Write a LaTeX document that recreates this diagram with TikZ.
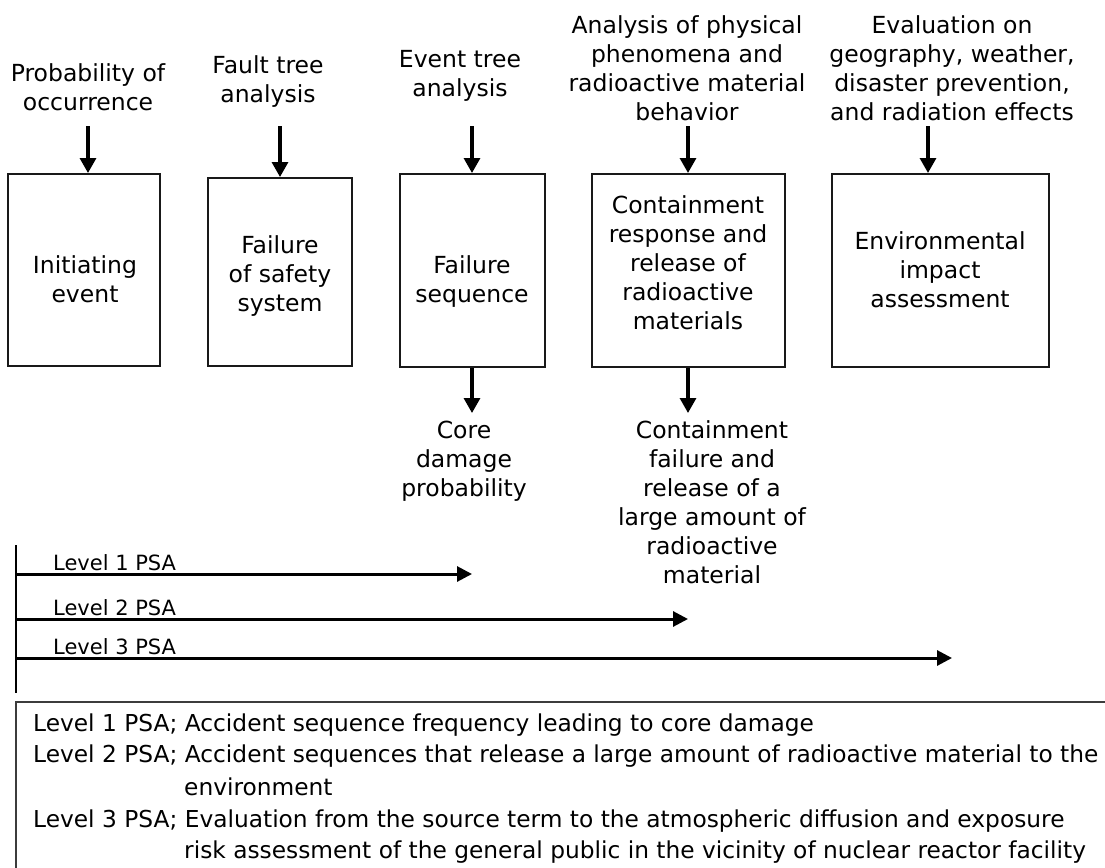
\documentclass[tikz,border=0pt]{standalone}
\usepackage{fontspec}
\setmainfont{DejaVu Sans}
\usetikzlibrary{arrows.meta,positioning,calc}

\begin{document}
\begin{tikzpicture}[x=1pt,y=-1pt,
		txt/.style={inner sep=0pt, align=center, anchor=north,
			font=\fontsize{23.5}{29}\selectfont},
		psabox/.style={draw=trait, line width=2pt, inner sep=0pt},
		fleche/.style={line width=3.2pt, -{Triangle[width=16pt,length=15pt]}},
		niveau/.style={line width=3pt, -{Triangle[width=15pt,length=15pt]}},
		lvl/.style={inner sep=0pt, anchor=base west, font=\fontsize{21}{25}\selectfont},
		leg/.style={inner sep=0pt, anchor=base west, font=\fontsize{23.3}{29}\selectfont}]
		% Couleurs
		\definecolor{trait}{RGB}{25,25,25}
		\definecolor{cadre}{RGB}{60,60,60}
		
		% Cadre de l'image
		\path[fill=white, use as bounding box] (0,0) rectangle (1105,867);
		\clip (0,0) rectangle (1105,867);
		
		% Cases
		\node[psabox, minimum width=152pt, minimum height=192pt] (ie)   at (84,270)    {};
		\node[psabox, minimum width=144pt, minimum height=188pt] (fss)  at (280,272)   {};
		\node[psabox, minimum width=145pt, minimum height=193pt] (fseq) at (472.5,270.5) {};
		\node[psabox, minimum width=193pt, minimum height=193pt] (cont) at (688.5,270.5) {};
		\node[psabox, minimum width=217pt, minimum height=193pt] (env)  at (940.5,270.5) {};
		
		\node[txt] (ietxt)   at (85,255)  {Initiating\\event};
		\node[txt] (fsstxt)  at (280,235) {Failure\\of safety\\system};
		\node[txt] (fseqtxt) at (472,255) {Failure\\sequence};
		\node[txt] (conttxt) at (688,195) {Containment\\response and\\release of\\radioactive\\materials};
		\node[txt] (envtxt)  at (940,231) {Environmental\\impact\\assessment};
		
		% Entrées (au-dessus)
		\node[txt] (probtxt) at (88,63)  {Probability of\\occurrence};
		\node[txt] (fttxt)   at (268,55) {Fault tree\\analysis};
		\node[txt] (ettxt)   at (460,50) {Event tree\\analysis};
		\node[txt] (phystxt) at (687,15) {Analysis of physical\\phenomena and\\radioactive material\\behavior};
		\node[txt] (evaltxt) at (952,15) {Evaluation on\\geography, weather,\\disaster prevention,\\and radiation effects};
		
		\foreach \nom/\x/\cible in {a1/88/ie, a2/280/fss, a3/472/fseq, a4/688/cont, a5/928/env}{
			\coordinate (\nom) at (\x,126);
			\draw[fleche] (\nom) -- (\nom |- \cible.north);
		}
		
		% Sorties (en dessous)
		\coordinate (b1) at (472,413);
		\coordinate (b2) at (688,413);
		\draw[fleche] (b1 |- fseq.south) -- (b1);
		\draw[fleche] (b2 |- cont.south) -- (b2);
		
		\node[txt] (cdptxt) at (464,421) {Core\\damage\\probability};
		\node[txt] (cftxt)  at (712,420) {Containment\\failure and\\release of a\\large amount of\\radioactive\\material};
		
		% Niveaux PSA
		\coordinate (lvhaut) at (16,545);
		\coordinate (lvbas)  at (16,693);
		\draw[line width=2pt] (lvhaut) -- (lvbas);
		\foreach \n/\y/\xe in {1/574/472, 2/619/688, 3/658/952}{
			\coordinate (l\n a) at (16,\y);
			\coordinate (l\n b) at (\xe,\y);
			\draw[niveau] (l\n a) -- (l\n b);
			\node[lvl] (l\n txt) at (53,\y-4) {Level \n\ PSA};
		}
		
		% Légende
		\draw[cadre, line width=2pt] (16,900) |- (1150,702);
		\node[leg] (leg1)  at (33,731)  {Level 1 PSA; Accident sequence frequency leading to core damage};
		\node[leg] (leg2)  at (33,762)  {Level 2 PSA; Accident sequences that release a large amount of radioactive material to the};
		\node[leg] (leg2b) at (184,795) {environment};
		\node[leg] (leg3)  at (33,827)  {Level 3 PSA; Evaluation from the source term to the atmospheric diffusion and exposure};
		\node[leg] (leg3b) at (184,858) {risk assessment of the general public in the vicinity of nuclear reactor facility};
	\end{tikzpicture}
\end{document}
